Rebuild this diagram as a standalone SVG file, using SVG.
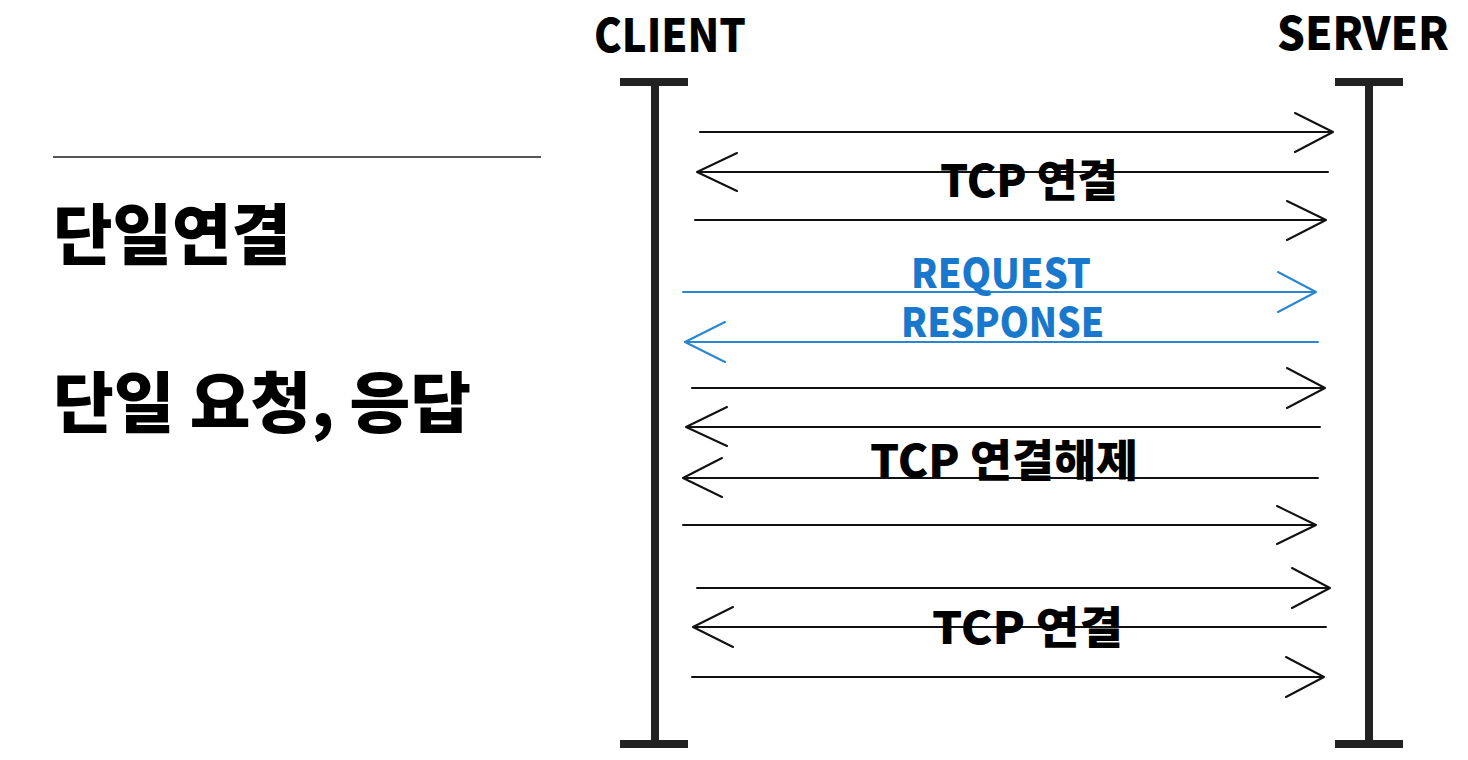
<svg xmlns="http://www.w3.org/2000/svg" width="1468" height="760" viewBox="0 0 1468 760">
<style>
.t{font-family:"Noto Sans CJK KR","Noto Sans",sans-serif;font-weight:900;fill:#000}
.blue{fill:#1a78cc}
.life{stroke:#222;stroke-width:8;fill:none}
.ar{stroke:#111;stroke-width:2;fill:none;stroke-linecap:round;stroke-linejoin:round}
.arb{stroke:#2a86d0;stroke-width:2;fill:none;stroke-linecap:round;stroke-linejoin:round}
</style>
<rect width="1468" height="760" fill="#fff"/>
<g id="title">
<line x1="53" y1="157" x2="541" y2="157" stroke="#555" stroke-width="2"/>
<text class="t" x="53" y="259" font-size="66" textLength="238" lengthAdjust="spacingAndGlyphs">단일연결</text>
<text class="t" x="53" y="427" font-size="66" textLength="418" lengthAdjust="spacingAndGlyphs">단일 요청, 응답</text>
</g>
<g id="client">
<text class="t" x="594" y="52" font-size="46" textLength="152" lengthAdjust="spacingAndGlyphs">CLIENT</text>
<line class="life" x1="620" y1="82" x2="688" y2="82"/>
<line class="life" x1="655" y1="82" x2="655" y2="744"/>
<line class="life" x1="620" y1="744" x2="688" y2="744"/>
</g>
<g id="server">
<text class="t" x="1277" y="50" font-size="46" textLength="172" lengthAdjust="spacingAndGlyphs">SERVER</text>
<line class="life" x1="1335" y1="82" x2="1403" y2="82"/>
<line class="life" x1="1369" y1="82" x2="1369" y2="744"/>
<line class="life" x1="1335" y1="744" x2="1403" y2="744"/>
</g>
<g id="connectors">
<path class="ar" d="M700 132H1333M1295 113L1333 132L1295 152"/>
<path class="ar" d="M1328 172H697M737 153L697 172L737 191"/>
<path class="ar" d="M695 220H1326M1287 201L1326 220L1287 240"/>
<path class="arb" d="M683 292H1316M1278 272L1316 292L1278 312"/>
<path class="arb" d="M1318 342H685M725 322L685 342L725 362"/>
<path class="ar" d="M692 388H1325M1287 368L1325 388L1287 408"/>
<path class="ar" d="M1320 427H686M727 407L686 427L727 446"/>
<path class="ar" d="M1318 478H683M722 458L683 478L722 497"/>
<path class="ar" d="M683 525H1316M1277 506L1316 525L1277 544"/>
<path class="ar" d="M697 588H1330M1292 568L1330 588L1292 608"/>
<path class="ar" d="M1326 627H693M733 607L693 627L733 647"/>
<path class="ar" d="M692 677H1324M1286 657L1324 677L1286 697"/>
</g>
<g id="labels">
<text class="t" x="940" y="197" font-size="44" textLength="178" lengthAdjust="spacingAndGlyphs">TCP 연결</text>
<text class="t blue" x="911" y="288" font-size="40" textLength="180" lengthAdjust="spacingAndGlyphs">REQUEST</text>
<text class="t blue" x="901" y="337" font-size="40" textLength="203" lengthAdjust="spacingAndGlyphs">RESPONSE</text>
<text class="t" x="870" y="477" font-size="44" textLength="268" lengthAdjust="spacingAndGlyphs">TCP 연결해제</text>
<text class="t" x="932" y="644" font-size="44" textLength="191" lengthAdjust="spacingAndGlyphs">TCP 연결</text>
</g>
</svg>
